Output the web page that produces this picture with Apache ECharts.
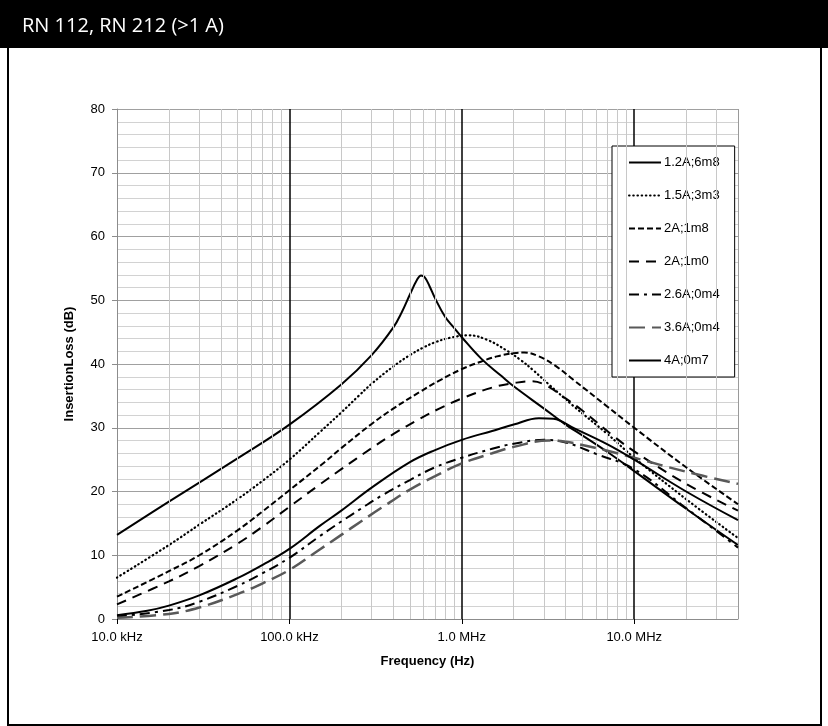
<!DOCTYPE html>
<html>
<head>
<meta charset="utf-8">
<script src="https://cdn.jsdelivr.net/npm/echarts@6/dist/echarts.min.js"></script>
<style>
html,body{margin:0;padding:0;background:#fff;}
#chart{width:828px;height:726px;}
</style>
</head>
<body>
<div id="chart"></div>
<script>
// ---- data (frequency in Hz, insertion loss in dB) ----
const seriesNames = ['1.2A;6m8','1.5A;3m3','2A;1m8','2A;1m0','2.6A;0m4','3.6A;0m4','4A;0m7'];

const f_12A = [1e4,2e4,5e4,1e5,2e5,3e5,4e5,4.5e5,5e5,5.5e5,5.8e5,6.1e5,6.5e5,7e5,8e5,9e5,1e6,1.3e6,1.7e6,2e6,3e6,4e6,5e6,7e6,1e7,2e7,4e7];
const il_12A = [13.2,18.4,25.2,30.5,36.8,41.4,45.7,48.2,50.9,53.2,53.9,53.6,52.2,50.3,47.4,45.7,44.2,40.8,38.1,36.5,33.0,30.5,28.8,26.2,23.2,17.3,11.6];

const f_15A = [1e4,2e4,3e4,5e4,7e4,1e5,1.5e5,2e5,2.5e5,3e5,4e5,5e5,6e5,7e5,8.5e5,1.1e6,1.4e6,1.8e6,2.2e6,2.6e6,3.2e6,4.4e6,7e6,1e7,2e7,4e7];
const il_15A = [6.5,11.6,14.8,18.8,21.7,25.0,29.3,32.4,34.9,36.9,39.6,41.4,42.6,43.4,44.1,44.5,43.8,42.2,40.6,39.0,36.8,33.5,29.0,25.3,18.8,12.7];

const f_2A18 = [1e4,2e4,3e4,5e4,7e4,1e5,1.6e5,2e5,3e5,4e5,5.7e5,7.4e5,1e6,1.3e6,1.6e6,2e6,2.3e6,2.8e6,3.5e6,4.4e6,7e6,1e7,2e7,4e7];
const il_2A18 = [3.5,7.5,10.0,13.9,16.9,20.2,24.6,26.8,30.6,33.0,35.6,37.4,39.2,40.4,41.2,41.7,41.8,41.2,39.7,37.6,33.3,30.0,23.8,18.0];

const f_2A10 = [1e4,2e4,3e4,5e4,7e4,1e5,1.5e5,2e5,3e5,4e5,5.7e5,7.4e5,1e6,1.5e6,2e6,2.5e6,3e6,4e6,5e6,7.5e6,1e7,2e7,4e7];
const il_2A10 = [2.3,5.9,8.3,11.8,14.5,17.6,21.1,23.5,26.8,29.0,31.4,33.0,34.6,36.3,37.0,37.3,36.8,34.6,32.7,28.8,26.3,21.2,17.0];

const f_26A = [1e4,2e4,3e4,5e4,7e4,1e5,1.5e5,2e5,2.6e5,3.4e5,5e5,7e5,1e6,1.5e6,2e6,3e6,4e6,6e6,1e7,2e7,4e7];
const il_26A = [0.4,1.4,2.7,5.2,7.2,9.6,13.0,15.3,17.3,19.3,21.8,23.8,25.3,26.7,27.5,28.1,27.7,25.9,23.5,17.4,11.2];

const f_36A = [1e4,2e4,3e4,5e4,7e4,1e5,1.5e5,2e5,2.6e5,3.4e5,5e5,7e5,1e6,1.5e6,2e6,3.2e6,4e6,5e6,7e6,1e7,2e7,4e7];
const il_36A = [0.2,0.8,1.8,3.9,5.6,7.7,10.9,13.2,15.3,17.4,20.3,22.4,24.4,26.0,27.0,28.0,27.8,27.3,26.4,25.3,23.1,21.2];

const f_4A = [1e4,1.5e4,2e4,3e4,5e4,7e4,1e5,1.5e5,2e5,3e5,5e5,7e5,1e6,1.5e6,2e6,2.8e6,3.4e6,4.5e6,7e6,1e7,2e7,4e7];
const il_4A = [0.6,1.3,2.1,3.7,6.4,8.5,11.0,14.6,17.0,20.6,24.6,26.5,28.1,29.5,30.5,31.5,31.4,29.9,27.4,25.0,20.0,15.5];

const xTickLabels = {1e4:'10.0 kHz',1e5:'100.0 kHz',1e6:'1.0 MHz',1e7:'10.0 MHz'};
const xMin = 1e4, xMax = 4e7;
const yMin = 0, yMax = 80, yStep = 10;

// ---- build ----
function pairs(f, v){ return f.map((x,i)=>[x, v[i]]); }
const dataSets = [[f_12A,il_12A],[f_15A,il_15A],[f_2A18,il_2A18],[f_2A10,il_2A10],[f_26A,il_26A],[f_36A,il_36A],[f_4A,il_4A]];
const styles = [
  {color:'#000', width:2, type:'solid', cap:'butt'},
  {color:'#000', width:2.2, type:[0.6,3.6], cap:'round'},
  {color:'#000', width:2, type:[6,3], cap:'butt'},
  {color:'#000', width:2, type:[10,7], cap:'butt'},
  {color:'#000', width:2, type:[10,5,3,5], cap:'butt'},
  {color:'#595959', width:2.5, type:[16,7], cap:'butt'},
  {color:'#000', width:2, type:'solid', cap:'butt'}
];

// minor vertical grid lines at 2..9 x each decade
const minorX = [];
for (let d = 1e4; d < xMax; d *= 10) {
  for (let k = 2; k <= 9; k++) { const v = d*k; if (v < xMax) minorX.push({xAxis: v}); }
}

const series = [{
  name: '_grid', type: 'line', data: [[xMin, 0]], symbol: 'none', silent: true,
  lineStyle: {opacity: 0}, z: 1,
  markLine: {
    silent: true, symbol: ['none','none'], animation: false,
    label: {show: false},
    lineStyle: {color: '#c8c8c8', width: 1, type: 'solid'},
    emphasis: {disabled: true},
    data: minorX.concat([{xAxis: xMax, lineStyle: {color: '#9a9a9a', width: 1, type: 'solid'}}])
  }
}];
seriesNames.forEach((n, i) => {
  series.push({
    name: n, type: 'line', data: pairs(dataSets[i][0], dataSets[i][1]),
    smooth: 0.4, symbol: 'none', z: 3 + i, animation: false,
    lineStyle: {color: styles[i].color, width: styles[i].width, type: styles[i].type, cap: styles[i].cap},
    itemStyle: {color: styles[i].color}
  });
});

const chart = echarts.init(document.getElementById('chart'), null, {renderer: 'canvas'});
chart.setOption({
  backgroundColor: '#fff',
  animation: false,
  textStyle: {fontFamily: 'Liberation Sans, Arial, sans-serif'},
  grid: {left: 117, right: 90, top: 109, bottom: 107, containLabel: false},
  xAxis: {
    type: 'log', logBase: 10, min: xMin, max: xMax,
    name: 'Frequency (Hz)', nameLocation: 'middle', nameGap: 36,
    nameTextStyle: {fontSize: 13, fontWeight: 'bold', color: '#000'},
    axisLine: {show: true, lineStyle: {color: '#8c8c8c', width: 1}},
    axisTick: {show: true, length: 5, lineStyle: {color: '#000'}},
    axisLabel: {
      fontSize: 13, color: '#000', margin: 12, showMaxLabel: false,
      formatter: v => xTickLabels[Math.round(v)] || ''
    },
    splitLine: {show: true, showMinLine: false, showMaxLine: false, lineStyle: {color: '#000', width: 1.5}},
    minorTick: {show: false}, minorSplitLine: {show: false}
  },
  yAxis: {
    type: 'value', min: yMin, max: yMax, interval: yStep,
    name: 'InsertionLoss (dB)', nameLocation: 'middle', nameGap: 41,
    nameTextStyle: {fontSize: 13, fontWeight: 'bold', color: '#000'},
    axisLine: {show: true, lineStyle: {color: '#8c8c8c', width: 1}},
    axisTick: {show: true, length: 5, lineStyle: {color: '#8c8c8c'}},
    axisLabel: {fontSize: 13, color: '#000', margin: 12},
    splitLine: {show: true, lineStyle: {color: '#a0a0a0', width: 1}},
    minorTick: {show: false, splitNumber: 5},
    minorSplitLine: {show: true, lineStyle: {color: '#d2d2d2', width: 1}}
  },
  legend: {
    data: seriesNames, orient: 'vertical', left: 612, top: 146,
    itemWidth: 32, itemHeight: 14, itemGap: 20,
    padding: [10, 15, 10, 16],
    backgroundColor: '#fff', borderColor: '#000', borderWidth: 1,
    itemStyle: {opacity: 0, borderWidth: 0},
    textStyle: {fontSize: 13, color: '#000', padding: [0, 0, 0, -2]},
    selectedMode: false
  },
  graphic: [
    {type: 'rect', shape: {x: 0, y: 0, width: 828, height: 48}, style: {fill: '#000'}, z: 100, silent: true},
    {type: 'text', x: 22, y: 26, style: {text: 'RN 112, RN 212 (>1 A)', fill: '#fff', font: '20px "Open Sans", sans-serif', verticalAlign: 'middle'}, z: 101, silent: true},
    {type: 'rect', shape: {x: 8, y: 47, width: 813, height: 678}, style: {fill: 'none', stroke: '#000', lineWidth: 2}, z: 100, silent: true}
  ],
  series: series
});
</script>
</body>
</html>
